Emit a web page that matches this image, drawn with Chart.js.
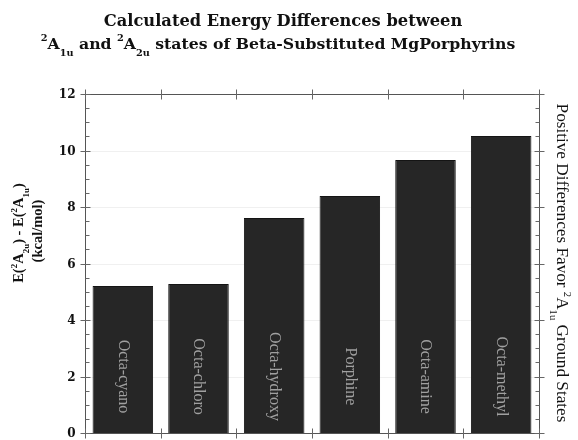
<!DOCTYPE html>
<html><head><meta charset="utf-8">
<script src="https://cdn.jsdelivr.net/npm/chart.js@4/dist/chart.umd.min.js"></script>
<style>html,body{margin:0;padding:0;background:#fff}</style>
</head><body>
<canvas id="c" width="578" height="440" style="width:578px;height:440px;display:block"></canvas>
<script>
const categories = ['Octa-cyano', 'Octa-chloro', 'Octa-hydroxy', 'Porphine', 'Octa-amine', 'Octa-methyl'];
const energyDiff = [5.2, 5.27, 7.61, 8.39, 9.66, 10.51];
const yMin = 0, yMax = 12, yStep = 2, yMinorStep = 0.5;
const titleLine1 = [['Calculated Energy Differences between', '']];
const titleLine2 = [['2', 'sup'], ['A', ''], ['1u', 'sub'], [' and ', ''], ['2', 'sup'], ['A', ''], ['2u', 'sub'], [' states of Beta-Substituted MgPorphyrins', '']];
const yTitle1 = [['E(', ''], ['2', 'sup'], ['A', ''], ['2u', 'sub'], [') - E(', ''], ['2', 'sup'], ['A', ''], ['1u', 'sub'], [')', '']];
const yTitle2 = [['(kcal/mol)', '']];
const rightTitle = [['Positive Differences Favor ', ''], ['2', 'sup'], ['A', ''], ['1u', 'sub'], [' Ground States', '']];

const SERIF = '"DejaVu Serif", "Liberation Serif", serif';
const TIMES = '"Liberation Serif", "DejaVu Serif", serif';

function richWidth(ctx, segs, size, family, weight) {
  let w = 0;
  for (const [t, k] of segs) {
    const s = k ? size * 0.62 : size;
    ctx.font = `${weight} ${s}px ${family}`;
    w += ctx.measureText(t).width;
  }
  return w;
}
function drawRich(ctx, segs, x, y, size, family, weight, color, subOff, supOff) {
  const w = richWidth(ctx, segs, size, family, weight);
  let cx = x - w / 2;
  ctx.fillStyle = color;
  ctx.textAlign = 'left';
  ctx.textBaseline = 'alphabetic';
  for (const [t, k] of segs) {
    const s = k ? size * 0.62 : size;
    ctx.font = `${weight} ${s}px ${family}`;
    let dy = 0;
    if (k === 'sub') dy = size * (subOff ?? 0.38);
    if (k === 'sup') dy = -size * (supOff ?? 0.42);
    ctx.fillText(t, cx, y + dy);
    cx += ctx.measureText(t).width;
  }
}

const decor = {
  id: 'decor',
  beforeDatasetsDraw(chart) {
    const ctx = chart.ctx;
    const a = chart.chartArea;
    const y = chart.scales.y;
    ctx.save();
    ctx.strokeStyle = 'rgba(0,0,0,0.06)';
    ctx.lineWidth = 1;
    for (let v = yMin + yStep; v < yMax; v += yStep) {
      const py = Math.round(y.getPixelForValue(v)) + 0.5;
      ctx.beginPath(); ctx.moveTo(a.left, py); ctx.lineTo(a.right, py); ctx.stroke();
    }
    ctx.restore();
  },
  afterDraw(chart) {
    const ctx = chart.ctx;
    const a = chart.chartArea;
    const y = chart.scales.y, x = chart.scales.x;
    ctx.save();
    ctx.strokeStyle = '#555';
    ctx.lineWidth = 1;
    const L = Math.round(a.left) + 0.5, R = Math.round(a.right) + 0.5, T = Math.round(a.top) + 0.5, B = Math.round(a.bottom) + 0.5;
    ctx.beginPath();
    ctx.moveTo(L, T); ctx.lineTo(R, T); ctx.lineTo(R, B); ctx.lineTo(L, B); ctx.closePath();
    ctx.stroke();
    ctx.strokeStyle = '#666';
    for (let v = yMin; v <= yMax + 1e-9; v += yMinorStep) {
      const py = Math.round(y.getPixelForValue(v)) + 0.5;
      const major = Math.abs(v / yStep - Math.round(v / yStep)) < 1e-6;
      ctx.beginPath();
      if (major) {
        ctx.moveTo(L - 5, py); ctx.lineTo(L + 5, py);
        ctx.moveTo(R - 5, py); ctx.lineTo(R + 5, py);
      } else {
        ctx.moveTo(L, py); ctx.lineTo(L + 4, py);
        ctx.moveTo(R - 4, py); ctx.lineTo(R, py);
      }
      ctx.stroke();
    }
    // y tick labels from the library's ticks
    ctx.fillStyle = '#111';
    ctx.font = `bold 12px ${SERIF}`;
    ctx.textAlign = 'right';
    ctx.textBaseline = 'middle';
    y.ticks.forEach(t => {
      ctx.fillText(String(t.value), L - 10, y.getPixelForValue(t.value) + 1);
    });
    const n = categories.length;
    const half = (x.getPixelForValue(1) - x.getPixelForValue(0)) / 2;
    for (let i = 0; i <= n; i++) {
      const px = Math.round(i < n ? x.getPixelForValue(i) - half : x.getPixelForValue(n - 1) + half) + 0.5;
      ctx.beginPath();
      ctx.moveTo(px, B - 5); ctx.lineTo(px, B + 5);
      ctx.moveTo(px, T - 5); ctx.lineTo(px, T + 5);
      ctx.stroke();
    }
    const meta = chart.getDatasetMeta(0);
    const ly = y.getPixelForValue(2);
    meta.data.forEach((bar, i) => {
      ctx.save();
      ctx.translate(bar.x, ly);
      ctx.rotate(Math.PI / 2);
      ctx.font = `16px ${TIMES}`;
      ctx.fillStyle = '#a0a0a0';
      ctx.textAlign = 'center';
      ctx.textBaseline = 'middle';
      ctx.fillText(categories[i], 0, 0);
      ctx.restore();
    });
    drawRich(ctx, titleLine1, 283, 26, 16.3, SERIF, 'bold', '#111');
    drawRich(ctx, titleLine2, 278, 49, 15.7, SERIF, 'bold', '#111', 0.42, 0.48);
    ctx.save();
    ctx.translate(23, 233);
    ctx.rotate(-Math.PI / 2);
    drawRich(ctx, yTitle1, 0, 0, 14.5, TIMES, 'bold', '#111');
    ctx.restore();
    ctx.save();
    ctx.translate(42, 231);
    ctx.rotate(-Math.PI / 2);
    drawRich(ctx, yTitle2, 0, 0, 14.5, TIMES, 'bold', '#111');
    ctx.restore();
    ctx.save();
    ctx.translate(557, 263);
    ctx.rotate(Math.PI / 2);
    drawRich(ctx, rightTitle, 0, 0, 17.2, TIMES, 'normal', '#111');
    ctx.restore();
    ctx.restore();
  }
};

new Chart(document.getElementById('c'), {
  type: 'bar',
  data: {
    labels: categories,
    datasets: [{
      data: energyDiff,
      backgroundColor: '#262626',
      borderColor: '#141414',
      borderWidth: 1,
      categoryPercentage: 0.8,
      barPercentage: 1.0
    }]
  },
  options: {
    responsive: false,
    animation: false,
    layout: { padding: { top: 94, left: 0, right: 0, bottom: 0 } },
    plugins: { legend: { display: false }, tooltip: { enabled: false }, title: { display: false } },
    scales: {
      x: {
        ticks: { display: false },
        grid: { display: false, drawTicks: false },
        border: { display: false },
        afterFit: s => { s.height = 7; }
      },
      y: {
        min: yMin, max: yMax,
        ticks: { stepSize: yStep, display: false },
        grid: { display: false, drawTicks: false },
        border: { display: false },
        afterFit: s => { s.width = 85; }
      },
      y2: {
        position: 'right',
        min: yMin, max: yMax,
        ticks: { display: false },
        grid: { display: false, drawTicks: false },
        border: { display: false },
        afterFit: s => { s.width = 39; }
      }
    }
  },
  plugins: [decor]
});
</script>
</body></html>
